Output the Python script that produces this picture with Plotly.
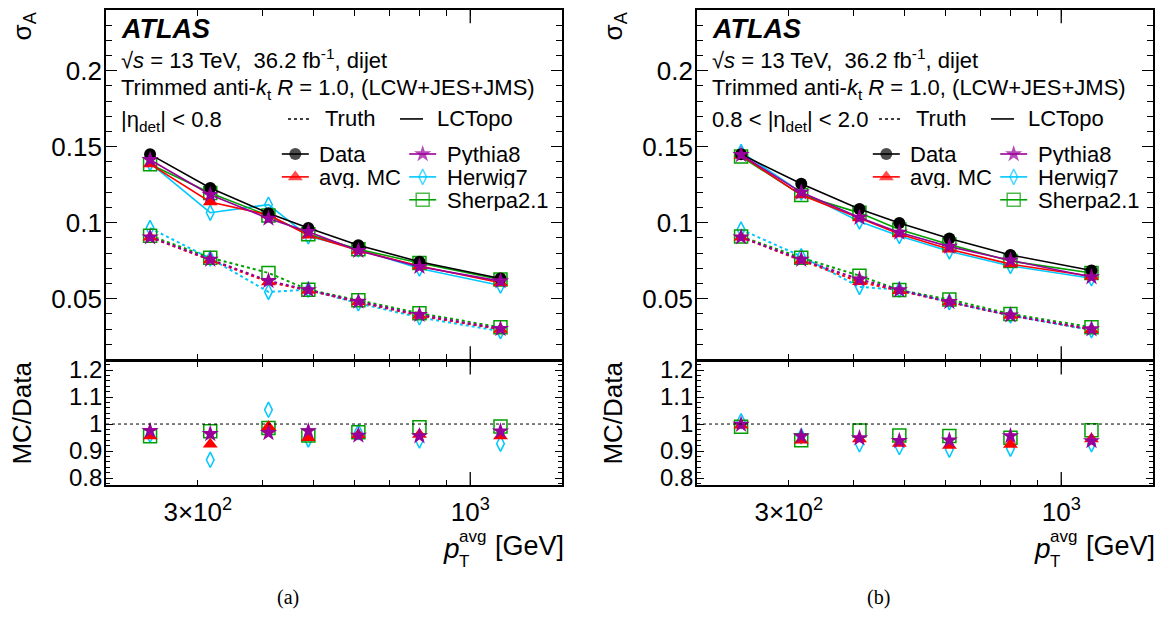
import numpy as np
import plotly.graph_objects as go

W, H = 1167, 619

# p_T^avg bin centres [GeV]
pt_avg = [243, 317, 410, 489, 610, 799, 1143]

# sigma_A, |eta_det| < 0.8 : LCTopo (reconstructed)
data_a = [0.1450, 0.1229, 0.1063, 0.0966, 0.0852, 0.0744, 0.0633]
avg_a = [0.1386, 0.1137, 0.1052, 0.0917, 0.0818, 0.0715, 0.0605]
py8_a = [0.1414, 0.1184, 0.1028, 0.0941, 0.0816, 0.0711, 0.0616]
hw7_a = [0.1392, 0.1066, 0.1119, 0.0911, 0.0826, 0.0699, 0.0587]
sh21_a = [0.1385, 0.1196, 0.1047, 0.0925, 0.0826, 0.0735, 0.0627]
# sigma_A, |eta_det| < 0.8 : truth
avg_truth_a = [0.0905, 0.0755, 0.0610, 0.0555, 0.0478, 0.0390, 0.0298]
py8_truth_a = [0.0905, 0.0758, 0.0618, 0.0558, 0.0482, 0.0395, 0.0302]
hw7_truth_a = [0.0965, 0.0765, 0.0545, 0.0560, 0.0470, 0.0378, 0.0287]
sh21_truth_a = [0.0915, 0.0770, 0.0670, 0.0560, 0.0490, 0.0405, 0.0312]

# sigma_A, 0.8 < |eta_det| < 2.0 : LCTopo (reconstructed)
data_b = [0.1450, 0.1257, 0.1091, 0.0998, 0.0897, 0.0788, 0.0686]
avg_b = [0.1443, 0.1182, 0.1031, 0.0926, 0.0826, 0.0728, 0.0648]
py8_b = [0.1447, 0.1200, 0.1034, 0.0936, 0.0843, 0.0753, 0.0643]
hw7_b = [0.1465, 0.1200, 0.1009, 0.0913, 0.0812, 0.0716, 0.0635]
sh21_b = [0.1436, 0.1182, 0.1065, 0.0956, 0.0857, 0.0748, 0.0670]
# sigma_A, 0.8 < |eta_det| < 2.0 : truth
avg_truth_b = [0.0905, 0.0752, 0.0612, 0.0552, 0.0478, 0.0390, 0.0297]
py8_truth_b = [0.0905, 0.0758, 0.0628, 0.0557, 0.0480, 0.0392, 0.0300]
hw7_truth_b = [0.0955, 0.0780, 0.0578, 0.0560, 0.0478, 0.0390, 0.0293]
sh21_truth_b = [0.0910, 0.0770, 0.0652, 0.0557, 0.0495, 0.0400, 0.0313]

x_tickvals = [300, 1000]
x_ticktext = ["3×10<sup>2</sup>", "10<sup>3</sup>"]
x_minor_tickvals = [200, 400, 500, 600, 700, 800, 900]

# ---------------------------------------------------------------- styling
FONT = "Liberation Sans, Arial, Helvetica, sans-serif"
SERIF = "Liberation Serif, Times New Roman, serif"
TXT = 22        # in-frame text size
AX = 26         # tick labels / axis titles
XLW = 1.6       # horizontal frame line width

STYLE = {
    "data": dict(name="Data", color="black", symbol="circle", size=12),
    "avg": dict(name="avg. MC", color="#ff0000", symbol="triangle-up", size=13),
    "py8": dict(name="Pythia8", color="#990099", symbol="star", size=13),
    "hw7": dict(name="Herwig7", color="#00c8ff", symbol="diamond-tall-open", size=11),
    "sh21": dict(name="Sherpa2.1", color="#00a000", symbol="square-open", size=13),
}
DRAW_ORDER = ["hw7", "sh21", "avg", "py8"]

# pixel geometry of the two panels
FRAME_W = 456.0
Y_TOP, Y_SPLIT, Y_BOT = 5.0, 361.0, 489.0
X_RANGE = [np.log10(200), np.log10(1500)]
Y_RANGE = [0.01, 0.24]
R_RANGE = [0.773, 1.233]


def fx(x):
    return x / W


def fy(y):
    return 1 - y / H


panels = [
    dict(x0=106.0, axes=("x", "y", "x2", "y2"),
         data=data_a,
         reco=dict(avg=avg_a, py8=py8_a, hw7=hw7_a, sh21=sh21_a),
         truth=dict(avg=avg_truth_a, py8=py8_truth_a, hw7=hw7_truth_a, sh21=sh21_truth_a),
         eta="|η<sub>det</sub>| &lt; 0.8", caption="(a)"),
    dict(x0=697.0, axes=("x3", "y3", "x4", "y4"),
         data=data_b,
         reco=dict(avg=avg_b, py8=py8_b, hw7=hw7_b, sh21=sh21_b),
         truth=dict(avg=avg_truth_b, py8=py8_truth_b, hw7=hw7_truth_b, sh21=sh21_truth_b),
         eta="0.8 &lt; |η<sub>det</sub>| &lt; 2.0", caption="(b)"),
]

fig = go.Figure()
annotations = []
shapes = []
layout_axes = {}


def marker_of(key, size=None):
    s = STYLE[key]
    open_sym = s["symbol"].endswith("open")
    return dict(symbol=s["symbol"], size=size or s["size"], color=s["color"],
                line=dict(color=s["color"], width=1.5 if open_sym else 0))


def note(text, x, y, size=TXT, xanchor="left", yanchor="middle", family=FONT, **kw):
    annotations.append(dict(text=text, x=fx(x), y=fy(y), xref="paper", yref="paper",
                            xanchor=xanchor, yanchor=yanchor, showarrow=False,
                            font=dict(family=family, size=size, color="black"), **kw))


def axname(a, kind):
    return kind + "axis" + a[1:]


for p in panels:
    xa, ya, xr, yr = p["axes"]
    x0 = p["x0"]
    data = np.array(p["data"])

    # truth curves (dotted)
    for key in DRAW_ORDER:
        s = STYLE[key]
        fig.add_trace(go.Scatter(x=pt_avg, y=p["truth"][key], xaxis=xa, yaxis=ya,
                                 mode="lines+markers", showlegend=False, cliponaxis=False,
                                 line=dict(color=s["color"], width=2, dash="3px,3px"),
                                 marker=marker_of(key)))
    # reconstructed curves (solid) and data
    for key in DRAW_ORDER:
        s = STYLE[key]
        if key == "py8":
            fig.add_trace(go.Scatter(x=pt_avg, y=data, xaxis=xa, yaxis=ya,
                                     mode="lines+markers", showlegend=False, cliponaxis=False,
                                     line=dict(color="black", width=1.6),
                                     marker=marker_of("data")))
        fig.add_trace(go.Scatter(x=pt_avg, y=p["reco"][key], xaxis=xa, yaxis=ya,
                                 mode="lines+markers", showlegend=False, cliponaxis=False,
                                 line=dict(color=s["color"], width=1.6),
                                 marker=marker_of(key)))
    # ratio MC / Data
    for key in DRAW_ORDER:
        ratio = np.array(p["reco"][key]) / data
        fig.add_trace(go.Scatter(x=pt_avg, y=ratio, xaxis=xr, yaxis=yr,
                                 mode="markers", showlegend=False, cliponaxis=False,
                                 marker=marker_of(key)))

    xdom = [fx(x0), fx(x0 + FRAME_W)]
    common_x = dict(type="log", range=X_RANGE, domain=xdom,
                    tickmode="array", tickvals=x_tickvals,
                    ticks="inside", ticklen=6, tickwidth=1.3, tickcolor="black",
                    minor=dict(tickmode="array", tickvals=x_minor_tickvals, ticks="inside",
                               ticklen=6, tickwidth=1.3, tickcolor="black", showgrid=False),
                    showline=True, linewidth=XLW, linecolor="black", mirror="ticks",
                    showgrid=False, zeroline=False,
                    tickfont=dict(family=FONT, size=AX, color="black"))
    layout_axes[axname(xa, "x")] = dict(common_x, anchor=ya, showticklabels=False)
    layout_axes[axname(xr, "x")] = dict(common_x, anchor=yr, ticktext=x_ticktext,
                                        showticklabels=True, ticklabelstandoff=3)
    common_y = dict(ticks="inside", tickwidth=1.3, tickcolor="black",
                    showline=True, linewidth=1.8, linecolor="black", mirror="ticks",
                    showgrid=False, zeroline=False, ticklabelstandoff=-3)
    layout_axes[axname(ya, "y")] = dict(common_y, anchor=xa, range=Y_RANGE,
                                        domain=[fy(Y_SPLIT), fy(Y_TOP)],
                                        tick0=0, dtick=0.05, ticklen=11,
                                        tickfont=dict(family=FONT, size=AX, color="black"),
                                        minor=dict(ticks="inside", ticklen=6, tick0=0, dtick=0.01,
                                                   tickcolor="black", tickwidth=1.1, showgrid=False))
    # the ratio frame starts one line width lower so both frame lines share one stroke
    layout_axes[axname(yr, "y")] = dict(common_y, anchor=xr, range=R_RANGE,
                                        domain=[fy(Y_BOT), fy(Y_SPLIT + XLW)],
                                        tick0=0, dtick=0.1, ticklen=7,
                                        tickfont=dict(family=FONT, size=AX - 2, color="black"),
                                        minor=dict(ticks="inside", ticklen=4, tick0=0, dtick=0.02,
                                                   tickcolor="black", tickwidth=1.1, showgrid=False))

    # longer tick at 10^3 on all horizontal edges
    top_h, rat_h = Y_SPLIT - Y_TOP, Y_BOT - Y_SPLIT - XLW
    for yref, h in ((ya, top_h), (yr, rat_h)):
        for base, sign in ((0, 1), (1, -1)):
            shapes.append(dict(type="line", xref=xa if yref == ya else xr, yref=yref + " domain",
                               x0=1000, x1=1000, y0=base, y1=base + sign * 13.5 / h,
                               line=dict(color="black", width=1.3)))
    # unity reference in ratio
    shapes.append(dict(type="line", xref=xr + " domain", yref=yr, x0=0, x1=1, y0=1, y1=1,
                       line=dict(color="black", width=1, dash="3px,3px")))

    # axis titles
    note("σ<sub>A</sub>", x0 - 83, 5, size=AX, xanchor="center", yanchor="top", textangle=-90)
    note("MC/Data", x0 - 84, 416, size=AX, xanchor="center", textangle=-90)
    note("<i>p</i>", x0 + 335, 553, size=AX + 2)
    note("avg", x0 + 351, 541, size=17)
    note("T", x0 + 351, 567, size=17)
    note("[GeV]", x0 + 387, 551, size=AX + 1)
    note(p["caption"], x0 + 181.5, 603, size=20, xanchor="center", family=SERIF)

    # in-frame text
    note("<b><i>ATLAS</i></b>", x0 + 13, 24, size=27)
    note("√<i>s</i> = 13 TeV,  36.2 fb<sup>-1</sup>, dijet", x0 + 13, 55)
    note("Trimmed anti-<i>k</i><sub>t</sub> <i>R</i> = 1.0, (LCW+JES+JMS)", x0 + 13, 86)
    note(p["eta"], x0 + 13, 118)

    # legend: line styles
    note("Truth", x0 + 217, 116)
    note("LCTopo", x0 + 328.5, 116)
    fig.add_trace(go.Scatter(x=[x0 + 182, x0 + 206], y=[116, 116], xaxis="x5", yaxis="y5",
                             mode="lines", showlegend=False, cliponaxis=False,
                             line=dict(color="black", width=1.6, dash="3px,3px")))
    fig.add_trace(go.Scatter(x=[x0 + 294, x0 + 317], y=[116, 116], xaxis="x5", yaxis="y5",
                             mode="lines", showlegend=False, cliponaxis=False,
                             line=dict(color="black", width=1.6)))
    # legend: samples
    rows = [151.7, 175.0, 198.3]
    entries = [("data", 189.3, 0), ("avg", 189.3, 1), ("py8", 316.7, 0), ("hw7", 316.7, 1), ("sh21", 316.7, 2)]
    for key, cx, r in entries:
        s = STYLE[key]
        yy = rows[r]
        fig.add_trace(go.Scatter(x=[x0 + cx - 13.5, x0 + cx, x0 + cx + 13.5], y=[yy] * 3,
                                 xaxis="x5", yaxis="y5", mode="lines+markers",
                                 showlegend=False, cliponaxis=False,
                                 line=dict(color=s["color"], width=1.6),
                                 marker=dict(marker_of(key), size=[0, s["size"], 0])))
        note(s["name"], x0 + cx + 22, yy, height=22, valign="middle")

layout_axes["xaxis5"] = dict(domain=[0, 1], range=[0, W], visible=False, anchor="y5", fixedrange=True)
layout_axes["yaxis5"] = dict(domain=[0, 1], range=[H, 0], visible=False, anchor="x5", fixedrange=True)

fig.update_layout(
    width=W, height=H,
    margin=dict(l=0, r=0, t=0, b=0),
    paper_bgcolor="white", plot_bgcolor="rgba(0,0,0,0)",
    showlegend=False,
    annotations=annotations, shapes=shapes,
    font=dict(family=FONT, color="black"),
    **layout_axes,
)

fig.write_html("out.html")
